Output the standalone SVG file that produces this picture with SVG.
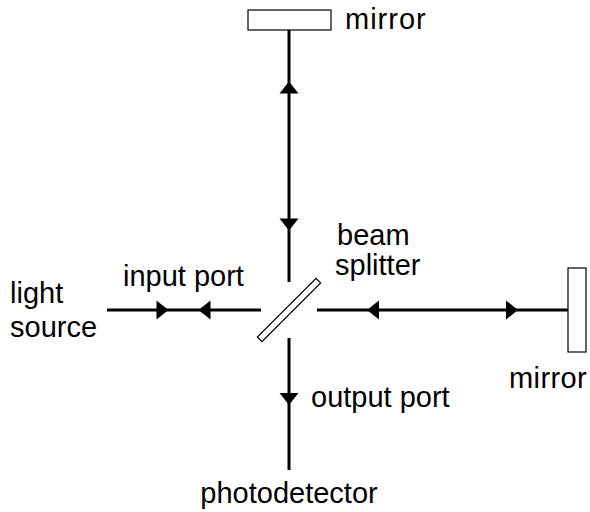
<svg xmlns="http://www.w3.org/2000/svg" width="590" height="512" viewBox="0 0 590 512">
<style>
.beam{stroke:#000;stroke-width:3;fill:none}
.arr{fill:#000}
.opt{fill:#fff;stroke:#000;stroke-width:1.2}
text{font-family:"Liberation Sans",Arial,sans-serif;font-size:29px;fill:#000}
.wide{letter-spacing:1px}
.wide2{letter-spacing:0.4px}
</style>
<rect width="590" height="512" fill="#fff"/>
<g id="connectors">
<line class="beam" x1="289" y1="30" x2="289" y2="282"/>
<line class="beam" x1="289" y1="338" x2="289" y2="470"/>
<line class="beam" x1="107" y1="310" x2="261" y2="310"/>
<line class="beam" x1="317" y1="310" x2="568" y2="310"/>
<polygon class="arr" points="289,81.5 279.5,93.5 298.5,93.5"/>
<polygon class="arr" points="289,230.5 279.5,218.5 298.5,218.5"/>
<polygon class="arr" points="289,405 279.5,393 298.5,393"/>
<polygon class="arr" points="168.5,310 156.5,300.5 156.5,319.5"/>
<polygon class="arr" points="198.5,310 210.5,300.5 210.5,319.5"/>
<polygon class="arr" points="367,310 379,300.5 379,319.5"/>
<polygon class="arr" points="518,310 506,300.5 506,319.5"/>
</g>
<g id="mirror-top">
<rect class="opt" x="248" y="10" width="83" height="20"/>
<text class="wide" x="345" y="29">mirror</text>
</g>
<g id="mirror-right">
<rect class="opt" x="568" y="268" width="18" height="84"/>
<text class="wide2" x="509" y="388">mirror</text>
</g>
<g id="beam-splitter">
<rect class="opt" x="247.5" y="306.75" width="83" height="6.5" transform="rotate(-45 289 310)"/>
<text x="337" y="245">beam</text>
<text x="335" y="275">splitter</text>
</g>
<g id="light-source">
<text x="10" y="303">light</text>
<text x="10" y="337">source</text>
</g>
<g id="input-port"><text x="123" y="286">input port</text></g>
<g id="output-port"><text x="311" y="407">output port</text></g>
<g id="photodetector"><text x="289" y="503" text-anchor="middle">photodetector</text></g>
</svg>
